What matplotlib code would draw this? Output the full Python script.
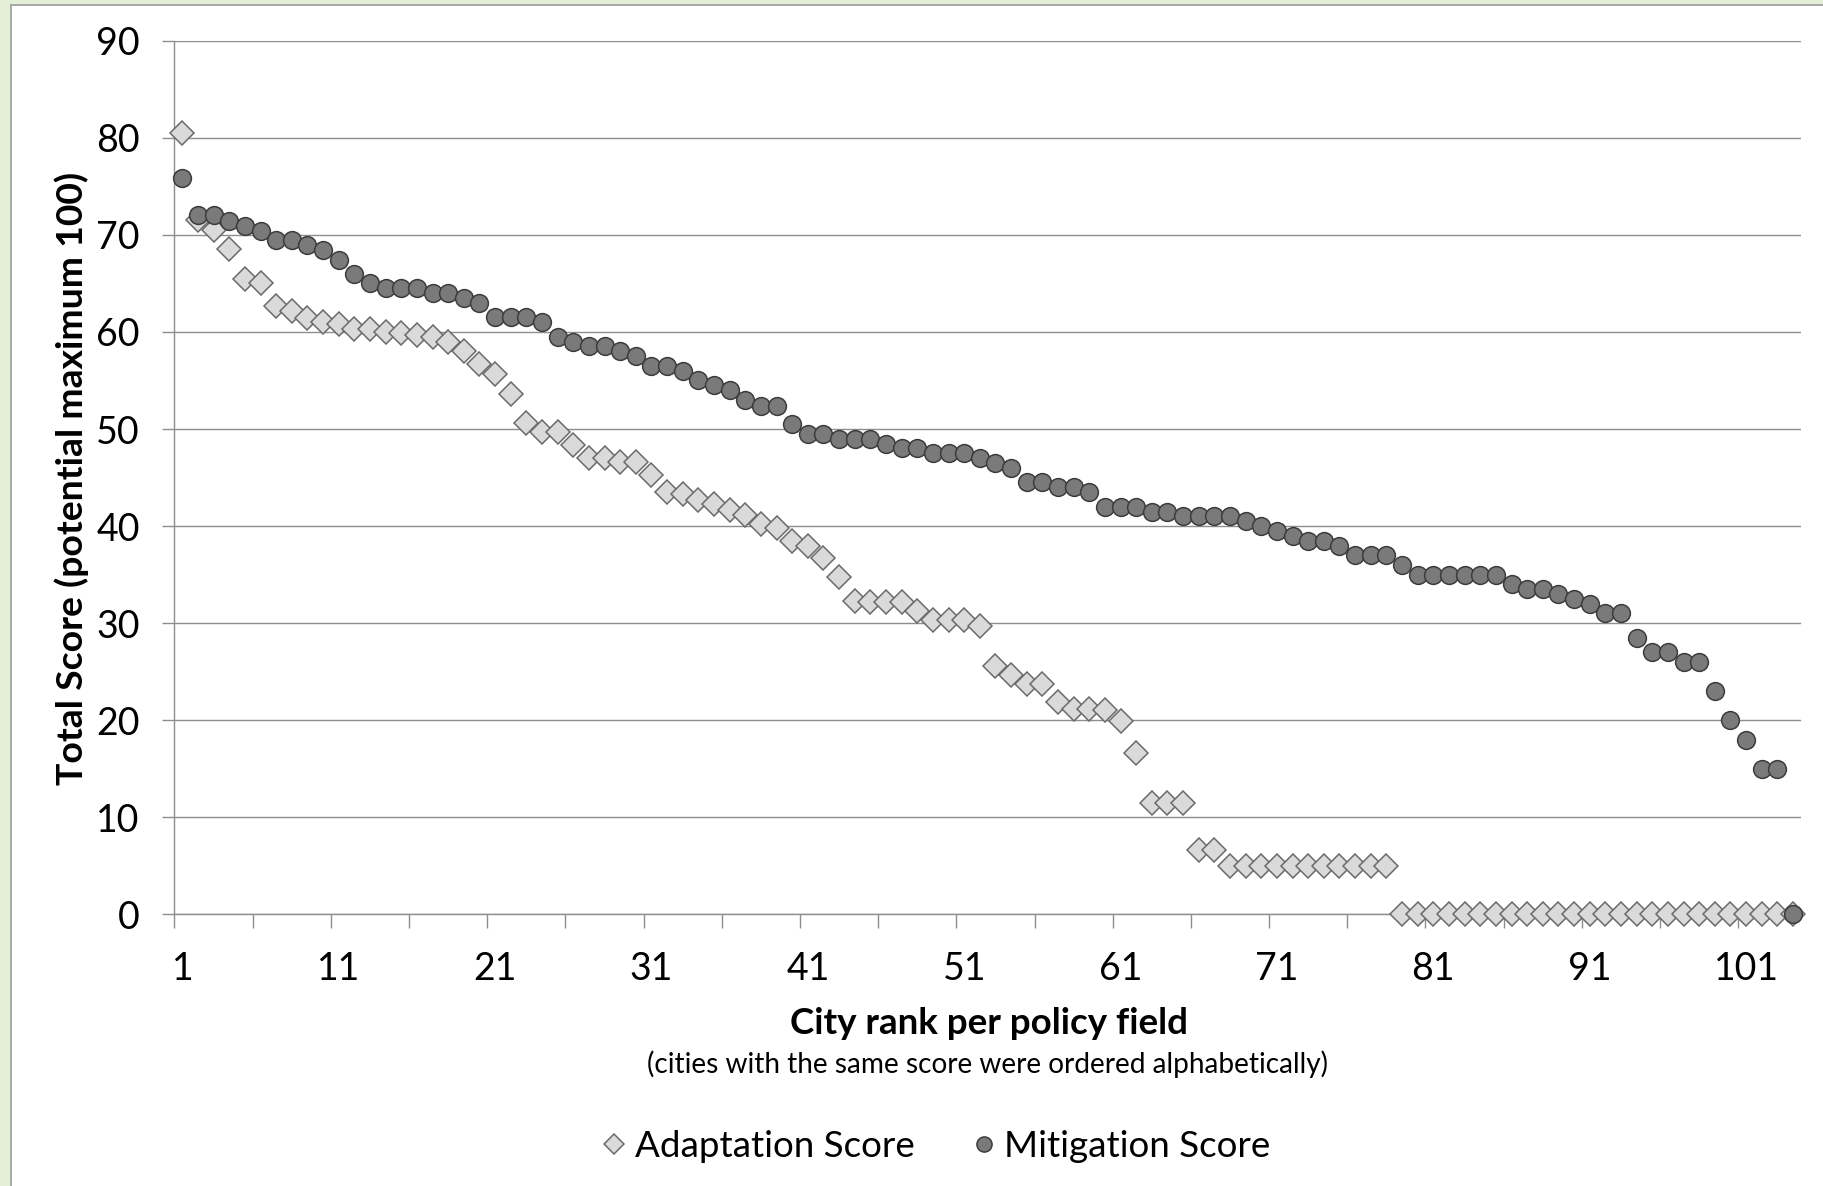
import matplotlib
matplotlib.use("Agg")
import matplotlib.pyplot as plt
from matplotlib.patches import Rectangle
from matplotlib.ticker import FixedLocator
import numpy as np

plt.rcParams['font.family'] = ['Lato', 'DejaVu Sans']

ranks = list(range(1, 105))

adaptation = [
    80.5, 71.5, 70.5, 68.5, 65.5, 65.0, 62.7, 62.2, 61.4, 61.0,
    60.8, 60.3, 60.3, 60.0, 59.9, 59.7, 59.5, 59.0, 58.0, 56.7,
    55.7, 53.6, 50.6, 49.7, 49.7, 48.4, 47.0, 47.0, 46.6, 46.6,
    45.3, 43.5, 43.3, 42.7, 42.3, 41.7, 41.1, 40.2, 39.8, 38.5,
    38.0, 36.7, 34.8, 32.3, 32.2, 32.2, 32.2, 31.3, 30.3, 30.3,
    30.3, 29.7, 25.6, 24.7, 23.7, 23.7, 21.9, 21.2, 21.2, 21.1,
    19.9, 16.6, 11.5, 11.5, 11.5, 6.6, 6.6, 5, 5, 5,
    5, 5, 5, 5, 5, 5, 5, 5, 0, 0,
    0, 0, 0, 0, 0, 0, 0, 0, 0, 0,
    0, 0, 0, 0, 0, 0, 0, 0, 0, 0,
    0, 0, 0, 0,
]

mitigation = [
    75.9, 72.0, 72.0, 71.4, 70.9, 70.4, 69.5, 69.5, 69.0, 68.4,
    67.4, 66.0, 65.0, 64.5, 64.5, 64.5, 64.0, 64.0, 63.5, 63.0,
    61.5, 61.5, 61.5, 61.0, 59.5, 59.0, 58.5, 58.5, 58.0, 57.5,
    56.5, 56.5, 56.0, 55.0, 54.5, 54.0, 53.0, 52.4, 52.4, 50.5,
    49.5, 49.5, 49.0, 49.0, 49.0, 48.5, 48.0, 48.0, 47.5, 47.5,
    47.5, 47.0, 46.5, 46.0, 44.5, 44.5, 44.0, 44.0, 43.5, 42.0,
    42.0, 42.0, 41.5, 41.5, 41.0, 41.0, 41.0, 41.0, 40.5, 40.0,
    39.5, 39.0, 38.5, 38.5, 38.0, 37.0, 37.0, 37.0, 36.0, 35.0,
    35.0, 35.0, 35.0, 35.0, 35.0, 34.0, 33.5, 33.5, 33.0, 32.5,
    32.0, 31.0, 31.0, 28.5, 27.0, 27.0, 26.0, 26.0, 23.0, 20.0,
    18.0, 15.0, 15.0, 0.0,
]

xtick_labels = [1, 11, 21, 31, 41, 51, 61, 71, 81, 91, 101]
yticks = [0, 10, 20, 30, 40, 50, 60, 70, 80, 90]

W, H = 1824, 1186
fig = plt.figure(figsize=(W / 100, H / 100), dpi=100, facecolor='#e4efd8')
fig.patches.append(Rectangle((11 / W, -0.01), 1.02, 1 - 5 / H + 0.01,
                             transform=fig.transFigure, facecolor='white',
                             edgecolor='#9c9c9c', lw=1.2, zorder=-10))

ax = fig.add_axes([174.5 / W, 1 - 914.4 / H, (1800.8 - 174.5) / W, (914.4 - 40.7) / H])
ax.set_facecolor('white')
ax.set_zorder(1)

grid_c = '#8e8e8e'
ax.plot(ranks, adaptation, linestyle='none', marker='D', ms=12.3,
        mfc='#dadada', mec='#6a6a6a', mew=1.1, clip_on=False, zorder=3,
        label='Adaptation Score')
ax.plot(ranks, mitigation, linestyle='none', marker='o', ms=12.8,
        mfc='#7a7a7a', mec='#3c3c3c', mew=1.1, clip_on=False, zorder=4,
        label='Mitigation Score')

ax.set_xlim(0.5, 104.5)
ax.set_ylim(0, 90)
ax.set_yticks(yticks)
ax.yaxis.grid(True, color=grid_c, lw=1.0)
ax.set_axisbelow(True)

ax.set_xticks(xtick_labels)
ax.set_xticklabels([str(v) for v in xtick_labels])
ax.xaxis.set_minor_locator(FixedLocator(np.arange(0.5, 104, 5)))
ax.tick_params(axis='x', which='major', length=0, pad=26, labelsize=27)
ax.tick_params(axis='x', which='minor', length=10, width=1.0, color=grid_c, direction='out')
ax.tick_params(axis='y', which='major', length=9, width=1.0, color=grid_c, pad=16, labelsize=27)

for s in ['top', 'right']:
    ax.spines[s].set_visible(False)
for s in ['left', 'bottom']:
    ax.spines[s].set_color(grid_c)
    ax.spines[s].set_linewidth(1.0)

fig.text(0.0393, 0.597, 'Total Score (potential maximum 100)', rotation=90,
         ha='center', va='center', fontsize=26.9, fontweight='bold')
fig.text(0.542, 0.1366, 'City rank per policy field', ha='center', va='center',
         fontsize=26.5, fontweight='bold')
fig.text(0.5416, 0.1029, '(cities with the same score were ordered alphabetically)',
         ha='center', va='center', fontsize=20.2)

fig.legend(loc='center', bbox_to_anchor=(0.5115, 0.0337), ncol=2, frameon=False,
           fontsize=26.5, markerscale=0.85, handletextpad=0.05, columnspacing=1.38,
           handlelength=1.0)

fig.savefig('out.png', dpi=100, facecolor=fig.get_facecolor())
